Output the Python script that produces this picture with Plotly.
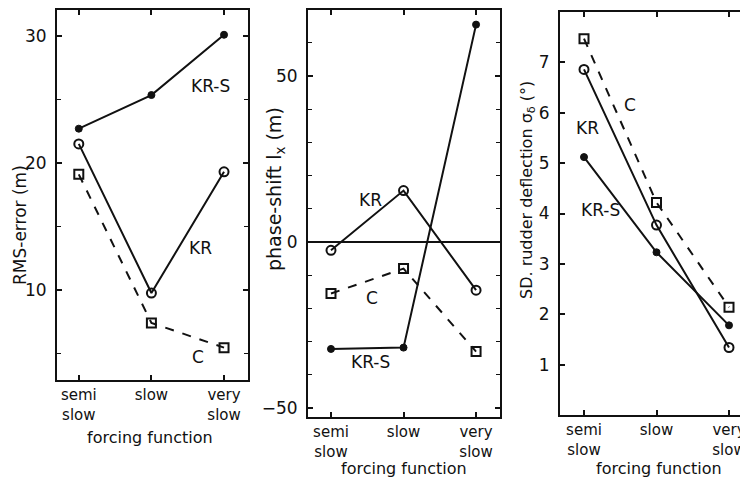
import plotly.graph_objects as go

# ---------------- data ----------------
categories = ["semi<br>slow", "slow", "very<br>slow"]

rms_krs = [22.7, 25.35, 30.1]
rms_kr = [21.5, 9.75, 19.3]
rms_c = [19.1, 7.4, 5.45]

phase_kr = [-2.5, 15.5, -14.5]
phase_c = [-15.5, -8.0, -33.0]
phase_krs = [-32.2, -31.8, 65.5]

sd_c = [7.47, 4.22, 2.14]
sd_kr = [6.86, 3.77, 1.34]
sd_krs = [5.12, 3.23, 1.78]

rms_ticks = [10, 20, 30]
phase_ticks = [-50, 0, 50]
sd_ticks = [1, 2, 3, 4, 5, 6, 7]

# page is 748x479, plotly div sits inside the 8px body margin
OFF = 8
W, H = 740, 471
FONT = "DejaVu Sans"
INK = "#111111"

fig = go.Figure()


def px2x(p):
    return (p - OFF) / W


def px2y(p):
    return 1 - (p - OFF) / H


panels = [
    dict(xd=[57, 248], yd=[380, 10], xr=[-0.30, 2.33], yr=[2.9, 32.05], ticks=rms_ticks, minor=5,
         series=[(rms_krs, "krs"), (rms_kr, "kr"), (rms_c, "c")]),
    dict(xd=[308, 500], yd=[417, 10], xr=[-0.317, 2.33], yr=[-52.7, 69.9], ticks=phase_ticks, minor=10,
         series=[(phase_krs, "krs"), (phase_kr, "kr"), (phase_c, "c")]),
    dict(xd=[560, 748], yd=[415, 12], xr=[-0.331, 2.262], yr=[0, 8], ticks=sd_ticks, minor=None,
         series=[(sd_krs, "krs"), (sd_kr, "kr"), (sd_c, "c")]),
]

styles = {
    "krs": dict(line=dict(color=INK, width=2, dash="solid"),
                marker=dict(symbol="circle", size=7, color=INK, line=dict(color=INK, width=1))),
    "kr": dict(line=dict(color=INK, width=2, dash="solid"),
               marker=dict(symbol="circle-open", size=9, color=INK, line=dict(color=INK, width=2))),
    "c": dict(line=dict(color=INK, width=2, dash="dash"),
              marker=dict(symbol="square-open", size=9, color=INK, line=dict(color=INK, width=2))),
}

layout = dict(
    width=W, height=H, margin=dict(l=0, r=0, t=0, b=0),
    paper_bgcolor="white", plot_bgcolor="white", showlegend=False,
    font=dict(family=FONT, size=16, color=INK),
)

for i, p in enumerate(panels, start=1):
    xa = "x" if i == 1 else f"x{i}"
    ya = "y" if i == 1 else f"y{i}"
    for vals, key in p["series"]:
        st = styles[key]
        fig.add_trace(go.Scatter(
            x=categories, y=vals, xaxis=xa, yaxis=ya, mode="lines+markers",
            line=st["line"], marker=st["marker"], cliponaxis=False,
        ))
    xkey = "xaxis" if i == 1 else f"xaxis{i}"
    ykey = "yaxis" if i == 1 else f"yaxis{i}"
    layout[xkey] = dict(
        domain=[px2x(p["xd"][0]), min(1.0, px2x(p["xd"][1]))], anchor=ya, type="category",
        categoryorder="array", categoryarray=categories,
        range=p["xr"], showline=True, linecolor=INK, linewidth=2, mirror="ticks",
        ticks="inside", ticklen=5, tickcolor=INK, tickwidth=1.5, showgrid=False,
        zeroline=False, automargin=False, tickfont=dict(size=15, family=FONT, color=INK),
        ticklabelstandoff=0, fixedrange=True,
    )
    ydict = dict(
        domain=[px2y(p["yd"][0]), px2y(p["yd"][1])], anchor=xa,
        range=p["yr"], tickvals=p["ticks"], showline=True, linecolor=INK, linewidth=2,
        mirror="ticks", ticks="inside", ticklen=5, tickcolor=INK, tickwidth=1.5,
        showgrid=False, zeroline=(i == 2), zerolinecolor=INK, zerolinewidth=1.8,
        automargin=False, tickfont=dict(size=17, family=FONT, color=INK),
        ticklabelstandoff=5, fixedrange=True,
    )
    if p["minor"]:
        ydict["minor"] = dict(dtick=p["minor"], ticks="inside", ticklen=4, tickcolor=INK, tickwidth=1.2)
    layout[ykey] = ydict

fig.update_layout(**layout)

# in-panel series labels (data coordinates)
labels = [
    ("x", "y", 1.81, 26.1, "KR-S"), ("x", "y", 1.67, 13.3, "KR"), ("x", "y", 1.64, 4.7, "C"),
    ("x2", "y2", 0.55, 12.7, "KR"), ("x2", "y2", 0.57, -16.9, "C"), ("x2", "y2", 0.54, -36.1, "KR-S"),
    ("x3", "y3", 0.63, 6.15, "C"), ("x3", "y3", 0.055, 5.69, "KR"), ("x3", "y3", 0.23, 4.07, "KR-S"),
]
for xr, yr, xv, yv, t in labels:
    fig.add_annotation(x=xv, y=yv, xref=xr, yref=yr, text=t, showarrow=False,
                       font=dict(family=FONT, size=17, color=INK))

# axis titles (x px, y px, text, size)
ytitles = [
    (20, 225, "RMS-error (m)", 17),
    (275, 189, "phase-shift l<sub>x</sub> (m)", 19),
    (527, 190, "SD. rudder deflection σ<sub>δ</sub> (°)", 16),
]
for xp, yp, t, s in ytitles:
    fig.add_annotation(x=px2x(xp), y=px2y(yp), xref="paper", yref="paper", text=t,
                       textangle=-90, showarrow=False, xanchor="center", yanchor="middle",
                       font=dict(family=FONT, size=s, color=INK))

xtitles = [(150, 437), (404, 468), (659, 468)]
for xp, yp in xtitles:
    fig.add_annotation(x=px2x(xp), y=px2y(yp), xref="paper", yref="paper", text="forcing function",
                       showarrow=False, xanchor="center", yanchor="middle",
                       font=dict(family=FONT, size=16, color=INK))

fig.write_html("out.html")
